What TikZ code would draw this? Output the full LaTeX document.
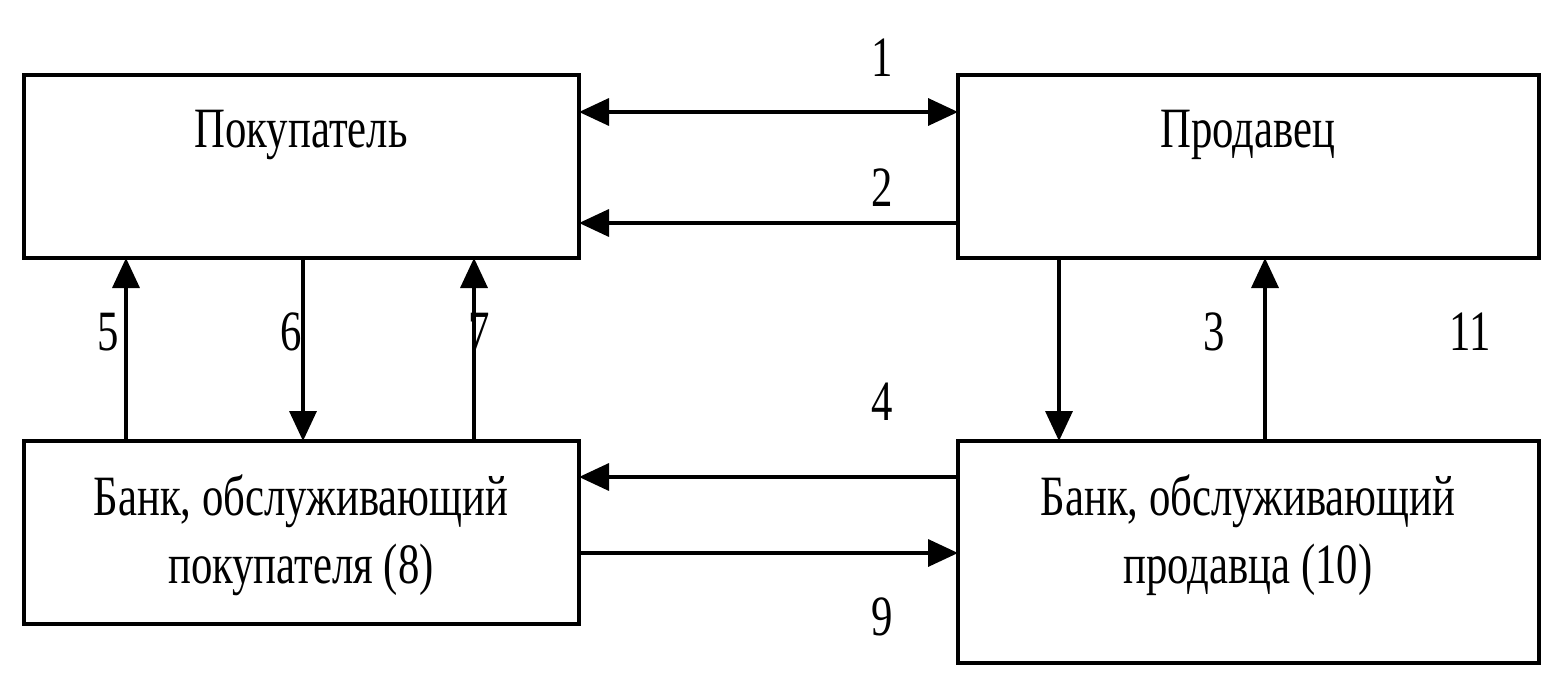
\documentclass[tikz,border=0pt]{standalone}
\usepackage{fontspec}
\setmainfont[FakeStretch=0.75]{Liberation Serif}
\usetikzlibrary{arrows.meta,calc}
\begin{document}
\begin{tikzpicture}[x=1pt,y=-1pt,
  box/.style={draw=black,line width=4pt,fill=white,inner sep=0pt,outer sep=0pt},
  txt/.style={anchor=base,inner sep=0pt,align=center,font=\fontsize{57}{68}\selectfont},
  num/.style={anchor=base,inner sep=0pt,font=\fontsize{57}{68}\selectfont},
  arr/.style={line width=3.5pt,-{Triangle[length=30pt,width=27pt]}},
  darr/.style={line width=3.5pt,{Triangle[length=30pt,width=27pt]}-{Triangle[length=30pt,width=27pt]}}]
\useasboundingbox[fill=white] (0,0) rectangle (1554,679);
% boxes
\node[box,minimum width=555pt,minimum height=183pt] (buyer) at (301.5,166.5) {};
\node[box,minimum width=581pt,minimum height=183pt] (seller) at (1248.5,166.5) {};
\node[box,minimum width=555pt,minimum height=183pt] (bbank) at (301.5,532.5) {};
\node[box,minimum width=581pt,minimum height=222pt] (sbank) at (1248.5,552) {};
% texts
\node[txt] (tbuyer) at (301,148) {Покупатель};
\node[txt] (tseller) at (1248,148) {Продавец};
\node[txt] (tbbank) at (301,583) {Банк, обслуживающий\\покупателя (8)};
\node[txt] (tsbank) at (1248,583) {Банк, обслуживающий\\продавца (10)};
% horizontal connectors
\draw[darr] ([yshift=-37pt]buyer.north east) -- ([yshift=-37pt]seller.north west);
\draw[arr] ([yshift=-148pt]seller.north west) -- ([yshift=-148pt]buyer.north east);
\draw[arr] ([yshift=-36pt]sbank.north west) -- ([yshift=-36pt]bbank.north east);
\draw[arr] ([yshift=-112pt]bbank.north east) -- ([yshift=-112pt]sbank.north west);
% vertical connectors
\draw[arr] ([xshift=102pt]bbank.north west) -- ([xshift=102pt]buyer.south west);
\draw[arr] ([xshift=279pt]buyer.south west) -- ([xshift=279pt]bbank.north west);
\draw[arr] ([xshift=450pt]bbank.north west) -- ([xshift=450pt]buyer.south west);
\draw[arr] ([xshift=101pt]seller.south west) -- ([xshift=101pt]sbank.north west);
\draw[arr] ([xshift=307pt]sbank.north west) -- ([xshift=307pt]seller.south west);
% labels
\node[num] (l1) at (882,77) {1};
\node[num] (l2) at (882,207) {2};
\node[num] (l3) at (1214,350) {3};
\node[num] (l4) at (882,420) {4};
\node[num] (l5) at (108,350) {5};
\node[num] (l6) at (291,350) {6};
\node[num] (l7) at (479,350) {7};
\node[num] (l9) at (882,635) {9};
\node[num] (l11) at (1470,350) {11};
\end{tikzpicture}
\end{document}
